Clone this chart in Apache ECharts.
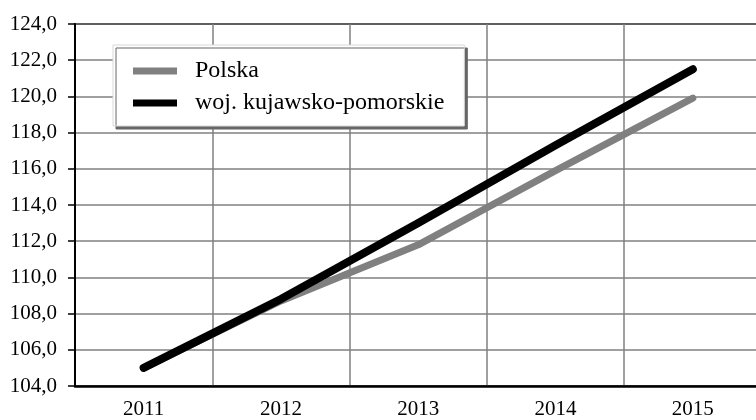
<!DOCTYPE html>
<html>
<head>
<meta charset="utf-8">
<script src="https://cdn.jsdelivr.net/npm/echarts@6/dist/echarts.min.js"></script>
<style>
  html, body { margin: 0; padding: 0; background: #fff; overflow: hidden; }
  /* the plot area runs past the right edge, so the frame clips it */
  #frame { position: relative; width: 756px; height: 420px; overflow: hidden; }
  #chart { position: absolute; left: 0; top: 0; width: 770px; height: 420px; }
</style>
</head>
<body>
<div id="frame"><div id="chart"></div></div>
<script>
// Years on the category axis
const years = ['2011', '2012', '2013', '2014', '2015'];

// Index values per year
const polska = [105.0, 108.7, 111.8, 115.9, 119.9];
const kujawskoPomorskie = [105.0, 108.8, 113.0, 117.3, 121.5];

// Value axis range
const yMin = 104;
const yMax = 124;
const yStep = 2;

const serif = 'Liberation Serif, Times New Roman, serif';

const chart = echarts.init(document.getElementById('chart'), null, { renderer: 'canvas' });

chart.setOption({
  animation: false,
  backgroundColor: '#fff',
  grid: {
    left: 75, top: 24, right: 8.5, bottom: 32,
    show: true, borderColor: '#000', borderWidth: 2, backgroundColor: 'transparent'
  },
  legend: {
    orient: 'vertical',
    left: 113, top: 45,
    padding: [14, 20, 11, 20],
    itemGap: 8,
    itemWidth: 44, itemHeight: 7,
    icon: 'rect',
    backgroundColor: '#fff',
    borderColor: '#d8d8d8', borderWidth: 1,
    shadowColor: '#666', shadowBlur: 0, shadowOffsetX: 3, shadowOffsetY: 3,
    textStyle: { fontFamily: serif, fontSize: 24, color: '#000', padding: [0, 0, 0, 13] },
    data: ['Polska', 'woj. kujawsko-pomorskie']
  },
  xAxis: {
    type: 'category',
    data: years,
    boundaryGap: true,
    axisLine: { lineStyle: { color: '#000', width: 2.5 } },
    axisTick: { show: false },
    axisLabel: { fontFamily: serif, fontSize: 21, color: '#000', margin: 13 },
    splitLine: { show: true, interval: 0, lineStyle: { color: '#808080', width: 1.5 } }
  },
  yAxis: {
    type: 'value',
    min: yMin, max: yMax, interval: yStep,
    axisLine: { show: true, lineStyle: { color: '#000', width: 2 } },
    axisTick: { show: true, length: 7, lineStyle: { color: '#000', width: 1.5 } },
    axisLabel: {
      fontFamily: serif, fontSize: 21, color: '#000', margin: 18,
      formatter: v => v.toFixed(1).replace('.', ',')
    },
    splitLine: { show: true, lineStyle: { color: '#808080', width: 1.5 } }
  },
  series: [
    {
      name: 'Polska',
      type: 'line',
      data: polska,
      symbol: 'none',
      itemStyle: { color: '#808080' },
      lineStyle: { color: '#808080', width: 7, cap: 'round', join: 'round' }
    },
    {
      name: 'woj. kujawsko-pomorskie',
      type: 'line',
      data: kujawskoPomorskie,
      symbol: 'none',
      itemStyle: { color: '#000' },
      lineStyle: { color: '#000', width: 8, cap: 'round', join: 'round' }
    }
  ]
});
</script>
</body>
</html>
